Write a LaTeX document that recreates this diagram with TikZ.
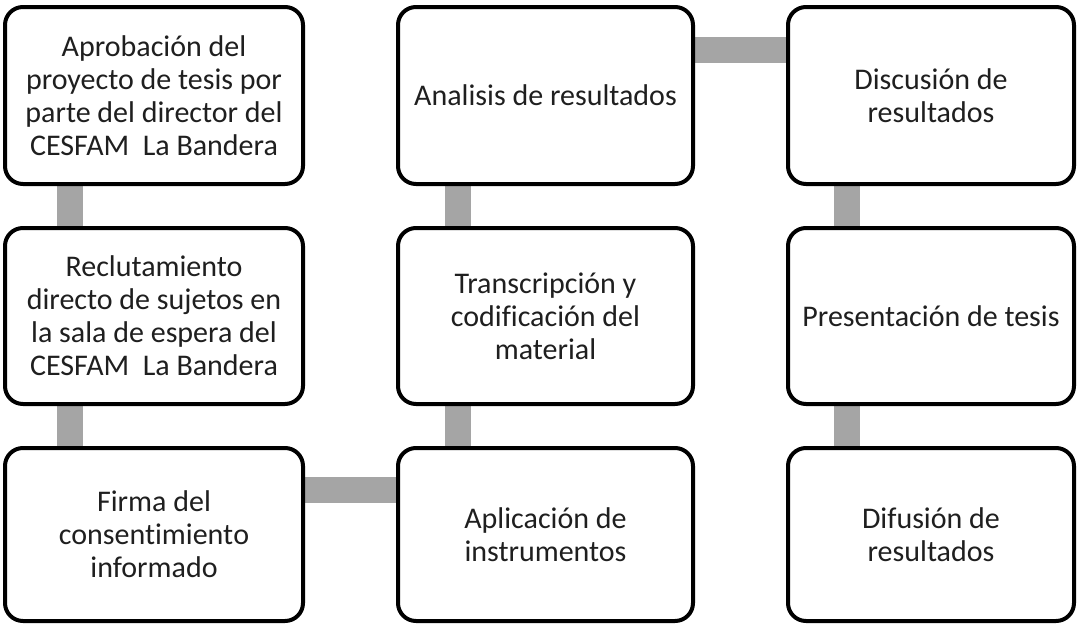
\documentclass[tikz,border=0pt]{standalone}
\usepackage{fontspec}
\setmainfont[Ligatures=NoCommon]{Carlito}
\usetikzlibrary{backgrounds}
\definecolor{conngray}{HTML}{A5A5A5}
\definecolor{txt}{HTML}{1F1F1F}
\tikzset{
  box/.style={draw=black, line width=4pt, rounded corners=18pt, fill=white,
    align=center, text=txt, inner sep=0pt,
    font=\fontsize{30pt}{33pt}\selectfont},
  c1/.style={box, minimum width=298pt},
  c2/.style={box, minimum width=295pt},
  c3/.style={box, minimum width=286pt},
  conn/.style={draw=conngray, line width=26pt}
}
\begin{document}
\begin{tikzpicture}[x=1pt,y=-1pt]
\useasboundingbox (0,0) rectangle (1077,624);
% column 1
\node[c1, minimum height=177pt] (a1) at (154,95.5) {Aprobación del\\proyecto de tesis por\\parte del director del\\CESFAM~ La Bandera};
\node[c1, minimum height=176pt] (a2) at (154,316) {Reclutamiento\\directo de sujetos en\\la sala de espera del\\CESFAM~ La Bandera};
\node[c1, minimum height=173pt] (a3) at (154,534.5) {Firma del\\consent\kern0pt imient\kern0pt o\\informado};
% column 2
\node[c2, minimum height=177pt] (b1) at (545.5,95.5) {Analisis de resultados};
\node[c2, minimum height=176pt] (b2) at (545.5,316) {Transcripción y\\codificación del\\material};
\node[c2, minimum height=173pt] (b3) at (545.5,534.5) {Aplicación de\\instrumentos};
% column 3
\node[c3, minimum height=177pt] (d1) at (931,95.5) {Discusión de\\resultados};
\node[c3, minimum height=176pt] (d2) at (931,316) {Presentación de tesis};
\node[c3, minimum height=173pt] (d3) at (931,534.5) {Difusión de\\resultados};
\begin{scope}[on background layer]
\draw[conn] ([xshift=-84.5pt]a1.center) -- ([xshift=-84.5pt]a2.center);
\draw[conn] ([xshift=-84.5pt]a2.center) -- ([xshift=-84.5pt]a3.center);
\draw[conn] ([yshift=44.5pt]a3.center) -- ([yshift=44.5pt]b3.center);
\draw[conn] ([xshift=-88pt]b3.center) -- ([xshift=-88pt]b2.center);
\draw[conn] ([xshift=-88pt]b2.center) -- ([xshift=-88pt]b1.center);
\draw[conn] ([yshift=45.5pt]b1.center) -- ([yshift=45.5pt]d1.center);
\draw[conn] ([xshift=-84pt]d1.center) -- ([xshift=-84pt]d2.center);
\draw[conn] ([xshift=-84pt]d2.center) -- ([xshift=-84pt]d3.center);
\end{scope}
\end{tikzpicture}
\end{document}
